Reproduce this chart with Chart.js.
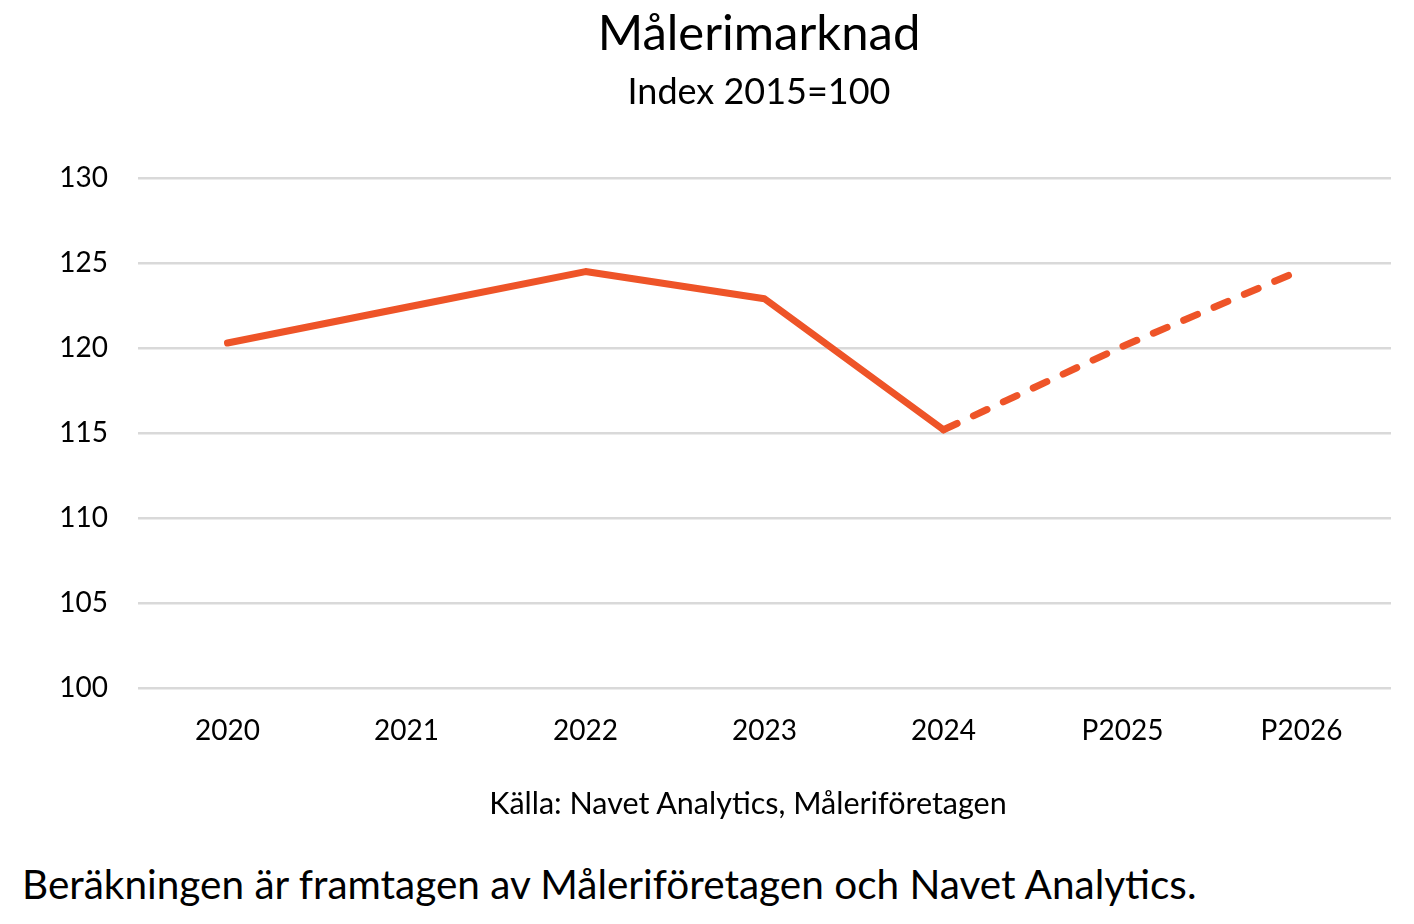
<!DOCTYPE html>
<html>
<head>
<meta charset="utf-8">
<script src="https://cdn.jsdelivr.net/npm/chart.js@4"></script>
<style>
  html, body { margin: 0; padding: 0; background: #fff; }
  #wrap { position: relative; width: 1414px; height: 924px; overflow: hidden; font-family: Lato, "Open Sans", sans-serif; color: #000; }
  #chartBox { position: absolute; left: 0; top: 0; width: 1414px; height: 788px; }
  .t { position: absolute; left: 0; width: 1518px; text-align: center; white-space: nowrap; }
  #title { top: 1px; font-size: 49px; line-height: 60px; }
  #subtitle { top: 68px; font-size: 36px; line-height: 44px; }
  #source { position: absolute; left: 0; width: 1496px; top: 783px; text-align: center; font-size: 30.5px; line-height: 38px; white-space: nowrap; }
  #note { position: absolute; left: 22px; top: 860px; font-size: 40.5px; line-height: 48px; white-space: nowrap; }
</style>
</head>
<body>
<div id="wrap">
  <div id="chartBox"><canvas id="c"></canvas></div>
  <div id="title" class="t"></div>
  <div id="subtitle" class="t"></div>
  <div id="source">Källa: Navet Analytics, Måleriföretagen</div>
  <div id="note">Beräkningen är framtagen av Måleriföretagen och Navet Analytics.</div>
</div>
<script>
const categories = ["2020", "2021", "2022", "2023", "2024", "P2025", "P2026"];
const indexValues = [120.3, 122.4, 124.5, 122.9, 115.2, 120.1, 124.6];
const forecastFrom = 4; // segments after this index are forecasts (dashed)
const titleText = "Målerimarknad";
const subtitleText = "Index 2015=100";
const yMin = 100, yMax = 130, yStep = 5;

document.getElementById("title").textContent = titleText;
document.getElementById("subtitle").textContent = subtitleText;

const lineColor = "#EE5428";

new Chart(document.getElementById("c"), {
  type: "line",
  data: {
    labels: categories,
    datasets: [{
      data: indexValues,
      borderColor: lineColor,
      borderWidth: 7,
      pointRadius: 0,
      pointHoverRadius: 0,
      tension: 0,
      borderCapStyle: "round",
      borderJoinStyle: "round",
      segment: {
        borderDash: ctx => ctx.p0DataIndex >= forecastFrom ? [15, 18] : undefined
      }
    }]
  },
  options: {
    responsive: true,
    maintainAspectRatio: false,
    animation: false,
    layout: { padding: { left: 0, right: 23, top: 178, bottom: 14 } },
    plugins: {
      legend: { display: false },
      tooltip: { enabled: false },
      title: { display: false },
      subtitle: { display: false }
    },
    scales: {
      x: {
        offset: true,
        grid: { display: false, drawTicks: false },
        border: { display: false },
        ticks: { color: "#000", font: { family: "Lato", size: 28 }, padding: 26, maxRotation: 0 }
      },
      y: {
        min: yMin, max: yMax,
        afterFit: s => { s.width = 138; },
        grid: { color: "#d9d9d9", lineWidth: 2.5, drawTicks: false },
        border: { display: false },
        ticks: { stepSize: yStep, color: "#000", font: { family: "Lato", size: 28 }, padding: 30 }
      }
    }
  }
});
</script>
</body>
</html>
